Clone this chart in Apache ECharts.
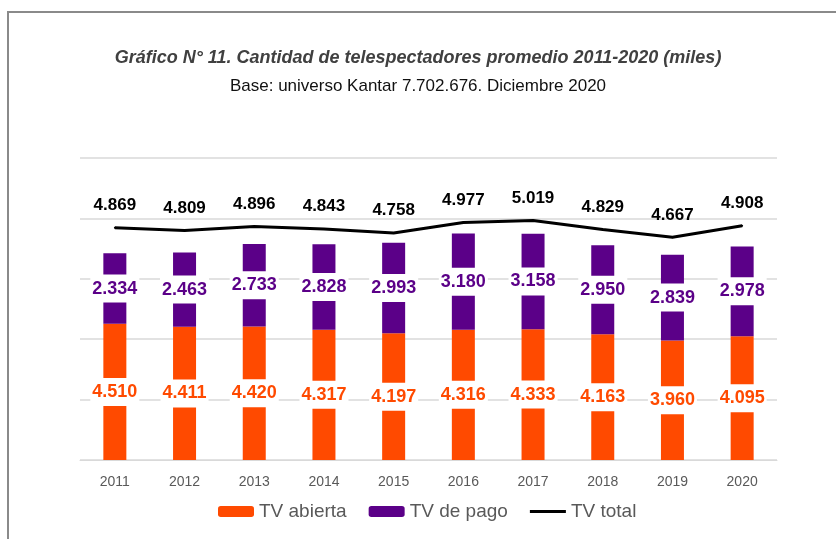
<!DOCTYPE html>
<html lang="es">
<head>
    <meta charset="UTF-8">
    <title>Telespectadores promedio</title>
    <script src="https://cdn.jsdelivr.net/npm/echarts@6/dist/echarts.min.js"></script>
    <style>
        html, body { margin: 0; padding: 0; background: #fff; }
        #main { width: 836px; height: 539px; }
    </style>
</head>
<body>
<div id="main"></div>
<script>
    // años
    const years = ['2011', '2012', '2013', '2014', '2015', '2016', '2017', '2018', '2019', '2020'];
    // miles de telespectadores
    const tvAbierta = [4510, 4411, 4420, 4317, 4197, 4316, 4333, 4163, 3960, 4095];
    const tvPago = [2334, 2463, 2733, 2828, 2993, 3180, 3158, 2950, 2839, 2978];
    const tvTotal = [4869, 4809, 4896, 4843, 4758, 4977, 5019, 4829, 4667, 4908];

    const orange = '#ff4a00';
    const purple = '#5b0088';

    // separador de miles con punto
    function fmt(v) {
        return String(v).replace(/\B(?=(\d{3})+(?!\d))/g, '.');
    }

    const barLabel = color => ({
        show: true,
        position: 'inside',
        formatter: p => fmt(p.value),
        color: color,
        fontFamily: 'Liberation Sans Narrow, Liberation Sans, sans-serif',
        fontWeight: 'bold',
        fontSize: 18,
        backgroundColor: '#fff',
        padding: [5, 2]
    });

    let myChart = echarts.init(document.getElementById('main'));
    let option = {
        animation: false,
        title: [{
            text: 'Gráfico N° 11. Cantidad de telespectadores promedio 2011-2020 (miles)',
            left: 'center',
            top: 44,
            textStyle: {
                fontFamily: 'Liberation Sans',
                fontStyle: 'italic',
                fontWeight: 'bold',
                fontSize: 18,
                color: '#404040'
            }
        }, {
            text: 'Base: universo Kantar 7.702.676. Diciembre 2020',
            left: 'center',
            top: 73,
            textStyle: {
                fontFamily: 'Liberation Sans',
                fontWeight: 'normal',
                fontSize: 17,
                color: '#111'
            }
        }],
        graphic: [{
            type: 'polyline',
            shape: { points: [[8, 539], [8, 12], [836, 12]] },
            style: { stroke: '#8a8a8a', lineWidth: 2, fill: null }
        }],
        legend: {
            bottom: 13,
            left: 213,
            itemWidth: 36,
            itemHeight: 11,
            itemGap: 22,
            textStyle: { fontFamily: 'Liberation Sans', fontSize: 19, color: '#595959' },
            data: [
                'TV abierta',
                'TV de pago',
                { name: 'TV total', icon: 'path://M0,0L40,0L40,3.5L0,3.5Z' }
            ]
        },
        grid: { left: 80, right: 59, top: 158, bottom: 79 },
        xAxis: {
            type: 'category',
            data: years,
            axisLine: { lineStyle: { color: '#d9d9d9' } },
            axisTick: { show: false },
            axisLabel: { color: '#595959', fontFamily: 'Liberation Sans', fontSize: 14, margin: 15 }
        },
        yAxis: [{
            type: 'value',
            min: 0,
            max: 10000,
            interval: 2000,
            axisLabel: { show: false },
            axisLine: { show: false },
            axisTick: { show: false },
            splitLine: { lineStyle: { color: '#d9d9d9', width: 1.5 } }
        }, {
            type: 'value',
            min: 0,
            max: 6330,
            show: false,
            splitLine: { show: false }
        }],
        series: [{
            name: 'TV abierta',
            type: 'bar',
            stack: 'tv',
            barWidth: 23,
            data: tvAbierta,
            itemStyle: { color: orange },
            label: barLabel(orange),
            z: 2
        }, {
            name: 'TV de pago',
            type: 'bar',
            stack: 'tv',
            barWidth: 23,
            data: tvPago,
            itemStyle: { color: purple },
            label: barLabel(purple),
            z: 2
        }, {
            name: 'TV total',
            type: 'line',
            yAxisIndex: 1,
            data: tvTotal,
            symbol: 'circle',
            symbolSize: 2,
            lineStyle: { color: '#000', width: 3 },
            itemStyle: { color: '#000' },
            label: {
                show: true,
                position: 'top',
                distance: 13,
                formatter: p => fmt(p.value),
                color: '#000',
                fontFamily: 'Liberation Sans',
                fontWeight: 'bold',
                fontSize: 17
            },
            z: 3
        }]
    };
    myChart.setOption(option);
</script>
</body>
</html>
